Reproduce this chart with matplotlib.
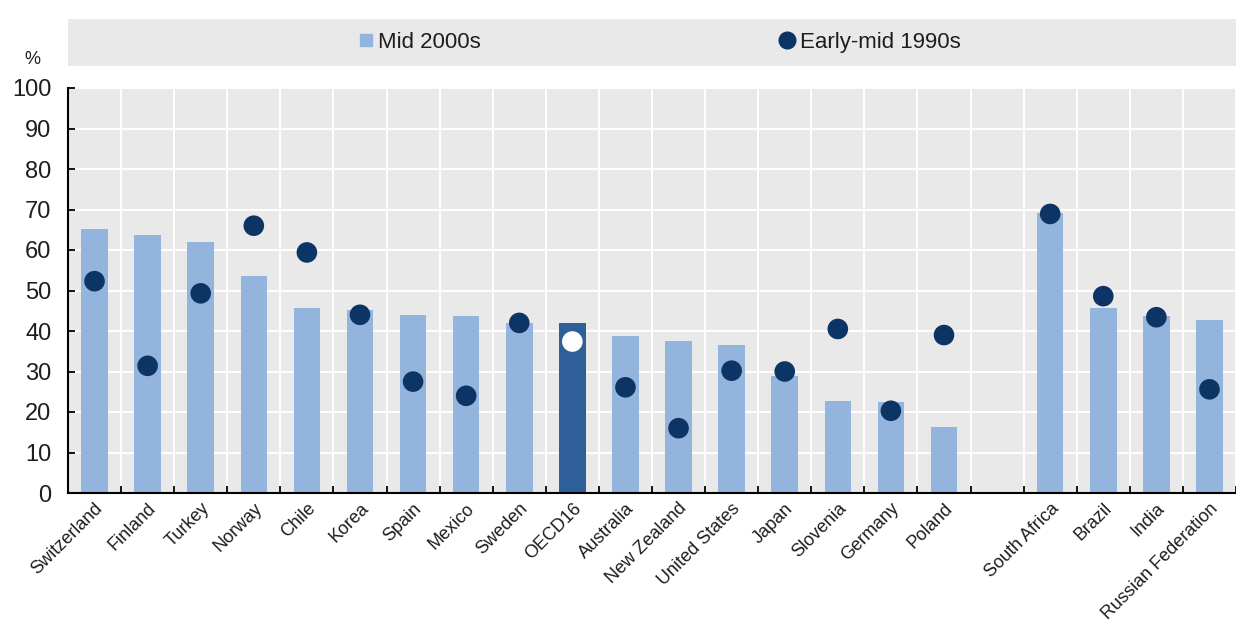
import matplotlib
import matplotlib.pyplot as plt
import numpy as np
from matplotlib.lines import Line2D
from matplotlib.patches import Rectangle

matplotlib.use('Agg')

plt.rcParams['font.family'] = ['Liberation Sans', 'DejaVu Sans']

# Countries; an empty slot separates the OECD group from the emerging economies
countries = ['Switzerland', 'Finland', 'Turkey', 'Norway', 'Chile', 'Korea', 'Spain',
             'Mexico', 'Sweden', 'OECD16', 'Australia', 'New Zealand', 'United States',
             'Japan', 'Slovenia', 'Germany', 'Poland', '',
             'South Africa', 'Brazil', 'India', 'Russian Federation']
mid_2000s = [65.2, 63.7, 61.9, 53.7, 45.6, 45.2, 44.0, 43.7, 41.9, 41.9, 38.8, 37.5,
             36.6, 28.9, 22.7, 22.4, 16.3, np.nan, 69.1, 45.6, 43.7, 42.7]
early_1990s = [52.3, 31.4, 49.3, 66.0, 59.4, 44.0, 27.5, 24.0, 42.0, 37.4, 26.1, 16.0,
               30.2, 30.0, 40.5, 20.3, 39.0, np.nan, 68.9, 48.6, 43.4, 25.6]
highlight = 'OECD16'

bar_light = '#93B4DC'
bar_dark = '#2E5F98'
dot_col = '#0C3566'
bg = '#E9E9E9'
txt = '#1E1E1E'

x = np.arange(len(countries))
bar_cols = [bar_dark if c == highlight else bar_light for c in countries]
dot_cols = ['white' if c == highlight else dot_col for c in countries]

fig = plt.figure(figsize=(12.36, 6.25), dpi=100)
ax = fig.add_axes([0.055, 0.2112, 0.945, 0.648])
ax.set_facecolor(bg)

ax.bar(x, mid_2000s, width=0.5, color=bar_cols, zorder=2)
ax.scatter(x, early_1990s, s=220, c=dot_cols, edgecolors='none', zorder=3)

ax.set_xlim(-0.5, 21.27)
ax.set_ylim(0, 100)
ax.set_yticks(np.arange(0, 101, 10))
ax.set_xticks(x)
ax.set_xticklabels(countries, rotation=45, ha='right', rotation_mode='anchor', fontsize=13,
                   color=txt)
ax.set_xticks(np.arange(-0.5, 21.6, 1), minor=True)
ax.tick_params(axis='x', which='major', length=0, pad=5)
ax.tick_params(axis='x', which='minor', direction='in', length=5, width=1.3)
ax.tick_params(axis='y', direction='in', length=5, width=1.3, labelsize=17, pad=12,
               labelcolor=txt)

ax.grid(True, axis='y', color='white', linewidth=1.4, zorder=1)
ax.grid(True, axis='x', which='minor', color='white', linewidth=1.4, zorder=1)
ax.set_axisbelow(True)
for s in ['top', 'right']:
    ax.spines[s].set_visible(False)
ax.spines['left'].set_linewidth(1.5)
ax.spines['bottom'].set_linewidth(1.5)

# Legend band across the top
fig.patches.append(Rectangle((0.055, 0.895), 0.945, 0.074, transform=fig.transFigure,
                             facecolor=bg, edgecolor='none'))
handles = [Line2D([], [], marker='s', linestyle='none', markersize=9, color=bar_light),
           Line2D([], [], marker='o', linestyle='none', markersize=12, color=dot_col)]
fig.legend(handles, ['Mid 2000s', 'Early-mid 1990s'], loc='center', ncol=2,
           bbox_to_anchor=(0.532, 0.932), frameon=False, fontsize=16, handletextpad=0.05,
           columnspacing=13.3, handlelength=1.0, labelcolor=txt)

fig.text(0.026, 0.905, '%', fontsize=13, ha='center', va='center', color=txt)

fig.savefig('out.png', dpi=100)
plt.close(fig)
